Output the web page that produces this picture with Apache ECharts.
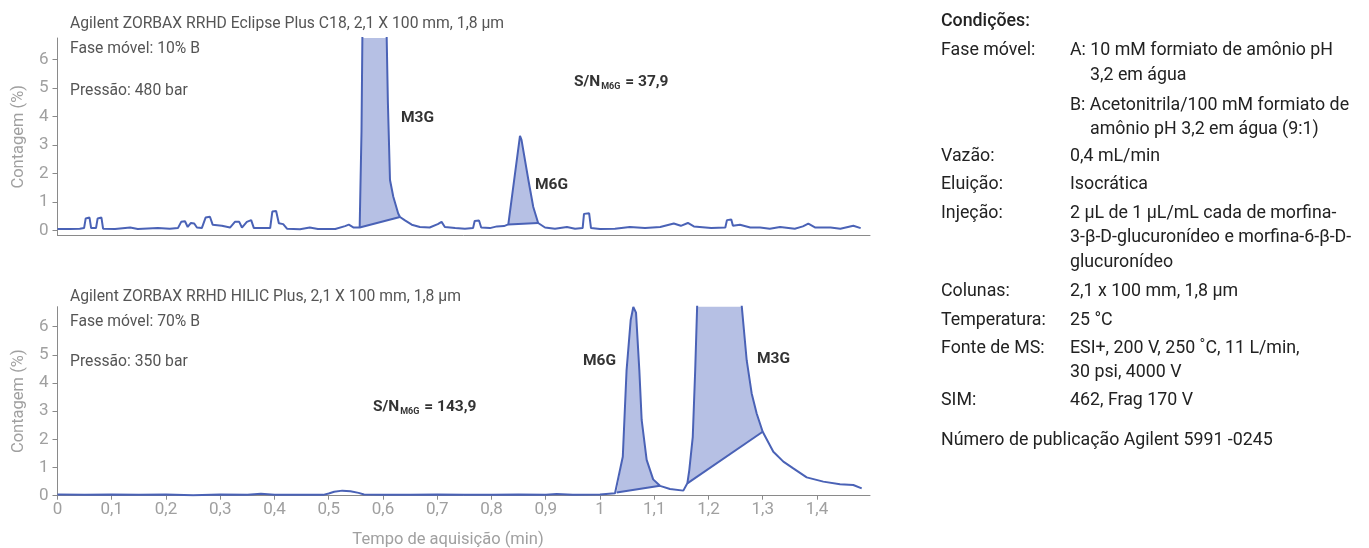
<!DOCTYPE html>
<html><head><meta charset="utf-8">
<script src="https://cdn.jsdelivr.net/npm/echarts@6/dist/echarts.min.js"></script>
<style>html,body{margin:0;padding:0;background:#fff}#c{width:1369px;height:548px}</style>
</head><body><div id="c"></div>
<script>
// ---- data (time in min, counts in %) ----
const topTime = [0.000,0.023,0.041,0.049,0.052,0.059,0.062,0.071,0.074,0.081,
  0.084,0.106,0.134,0.148,0.185,0.207,0.222,0.228,0.235,0.240,
  0.246,0.252,0.257,0.266,0.273,0.281,0.286,0.303,0.318,0.327,
  0.335,0.340,0.349,0.357,0.362,0.392,0.396,0.403,0.408,0.416,
  0.423,0.447,0.465,0.480,0.512,0.530,0.537,0.546,0.557,0.5604,
  0.5622,0.567,0.585,0.603,0.6068,0.609,0.6129,0.619,0.628,0.6313,
  0.6405,0.653,0.668,0.686,0.701,0.708,0.714,0.733,0.751,0.766,
  0.769,0.777,0.781,0.797,0.810,0.823,0.831,0.8525,0.8553,0.868,
  0.877,0.886,0.8986,0.917,0.939,0.954,0.968,0.9705,0.980,0.9834,
  1.000,1.0276,1.055,1.083,1.111,1.136,1.149,1.162,1.173,1.205,
  1.231,1.234,1.242,1.245,1.258,1.277,1.295,1.313,1.332,1.359,
  1.374,1.384,1.397,1.425,1.443,1.467,1.4805];
const topCounts = [0.05,0.05,0.06,0.08,0.42,0.45,0.08,0.08,0.42,0.45,
  0.06,0.05,0.10,0.05,0.08,0.06,0.08,0.30,0.32,0.12,
  0.26,0.24,0.10,0.08,0.45,0.48,0.20,0.16,0.10,0.30,
  0.30,0.10,0.30,0.36,0.08,0.08,0.66,0.68,0.25,0.22,
  0.06,0.04,0.10,0.05,0.05,0.15,0.20,0.10,0.10,3.5,
  7.2,9.5,10.5,9.6,6.77,4.5,1.77,1.18,0.59,0.47,
  0.35,0.20,0.12,0.10,0.22,0.30,0.12,0.08,0.06,0.08,
  0.33,0.35,0.10,0.08,0.14,0.15,0.21,3.32,3.18,1.77,
  0.82,0.26,0.10,0.06,0.12,0.06,0.08,0.58,0.60,0.08,
  0.05,0.06,0.12,0.08,0.12,0.24,0.16,0.26,0.14,0.08,
  0.10,0.36,0.38,0.16,0.20,0.10,0.10,0.06,0.12,0.06,
  0.14,0.24,0.10,0.10,0.06,0.16,0.08];
const bottomTime = [0.000,0.050,0.100,0.150,0.200,0.250,0.300,0.350,0.375,0.400,
  0.450,0.490,0.500,0.510,0.525,0.540,0.555,0.565,0.600,0.650,
  0.700,0.750,0.800,0.850,0.900,0.920,0.950,1.000,1.0277,1.0307,
  1.042,1.049,1.0566,1.0614,1.0664,1.0725,1.0768,1.086,1.098,1.1106,
  1.129,1.1536,1.161,1.1646,1.171,1.1755,1.1795,1.190,1.220,1.250,
  1.2612,1.2704,1.2796,1.2888,1.2999,1.3195,1.338,1.3563,1.381,1.4116,
  1.4424,1.4669,1.4824];
const bottomCounts = [0.04,0.03,0.04,0.03,0.04,0.02,0.04,0.03,0.07,0.03,
  0.03,0.03,0.08,0.14,0.18,0.16,0.10,0.04,0.03,0.03,
  0.04,0.03,0.03,0.04,0.03,0.06,0.03,0.04,0.085,0.11,
  1.38,4.46,6.24,6.70,6.50,4.46,2.69,1.27,0.58,0.35,
  0.24,0.18,0.44,0.91,2.09,4.46,7.0,8.5,9.0,8.5,
  6.75,4.81,3.63,2.92,2.27,1.56,1.21,0.97,0.65,0.50,
  0.41,0.38,0.26];
// integrated peak windows [start, end] (min)
const topPeakWindows = [[0.557, 0.6313], [0.831, 0.886]];
const bottomPeakWindows = [[1.0307, 1.1106], [1.161, 1.2999]];
const xTicks = [0, 0.1, 0.2, 0.3, 0.4, 0.5, 0.6, 0.7, 0.8, 0.9, 1, 1.1, 1.2, 1.3, 1.4];
const yTicks = [0, 1, 2, 3, 4, 5, 6];

// ---- styling ----
const FONT = 'Roboto, "Noto Sans", sans-serif';
const LINE = '#4a62b6', FILL = '#b6c0e4', AX = '#8a8a8a', LBL = '#a0a0a0';
const X_MAX = 1.4977;

function pairs(t, c) { return t.map((x, i) => [x, c[i]]); }
function fmt(v) { return String(+v.toFixed(1)).replace('.', ','); }

function peakShade(idx, time, counts, windows) {
  return {
    type: 'custom', xAxisIndex: idx, yAxisIndex: idx, clip: true, z: 1, silent: true,
    data: windows.map(w => [w[0], w[1], 0]),
    encode: { x: [0, 1], y: 2 },
    renderItem(params, api) {
      const x0 = api.value(0), x1 = api.value(1);
      const pts = [];
      for (let i = 0; i < time.length; i++) {
        if (time[i] >= x0 - 1e-9 && time[i] <= x1 + 1e-9) pts.push(api.coord([time[i], counts[i]]));
      }
      const a = pts[0], b = pts[pts.length - 1];
      return { type: 'group', children: [
        { type: 'polygon', shape: { points: pts }, style: { fill: FILL } },
        { type: 'line', shape: { x1: a[0], y1: a[1], x2: b[0], y2: b[1] }, style: { stroke: LINE, lineWidth: 2 } }
      ]};
    }
  };
}
function lineSeries(idx, time, counts) {
  return { type: 'line', xAxisIndex: idx, yAxisIndex: idx, data: pairs(time, counts),
    showSymbol: false, symbol: 'none', z: 3, clip: true, silent: true,
    lineStyle: { color: LINE, width: 2 } };
}
function yAxis(idx, min, max) {
  return { type: 'value', gridIndex: idx, min: min, max: max,
    axisLine: { show: true, lineStyle: { color: AX, width: 1 } },
    axisTick: { show: true, customValues: yTicks, length: 5, lineStyle: { color: AX } },
    axisLabel: { customValues: yTicks, color: LBL, fontSize: 17, fontFamily: FONT, margin: 9 },
    splitLine: { show: false },
    name: 'Contagem (%)', nameLocation: 'middle', nameGap: 30, nameRotate: 90,
    nameTextStyle: { color: LBL, fontSize: 16.5, fontFamily: FONT } };
}
const DY = 2;
function T(x, y, text, o) {
  o = o || {};
  return { type: 'text', x: x, y: y + DY, silent: true, style: Object.assign({
    text: text, fill: o.fill || '#555', fontSize: o.size || 15.7, fontFamily: FONT,
    fontWeight: o.weight || 'normal', align: o.align || 'left', verticalAlign: 'middle' }, o.rich ? { rich: o.rich } : {}) };
}
const snRich = {
  a: { fontSize: 15.5, fontWeight: 'bold', fill: '#333', fontFamily: FONT },
  b: { fontSize: 9, fontWeight: 'bold', fill: '#333', fontFamily: FONT, padding: [9, 1, 0, 1] }
};
const RP = '#222', RS = 17.8, LB = 15.5;
const graphic = [
  T(70, 22, 'Agilent ZORBAX RRHD Eclipse Plus C18, 2,1 X 100 mm, 1,8 µm'),
  T(70, 47, 'Fase móvel: 10% B'),
  T(70, 89, 'Pressão: 480 bar'),
  T(401, 116, 'M3G', { fill: '#333', weight: 'bold', size: LB }),
  T(535, 183, 'M6G', { fill: '#333', weight: 'bold', size: LB }),
  T(574, 80, '{a|S/N}{b|M6G}{a| = 37,9}', { rich: snRich }),
  T(70, 295, 'Agilent ZORBAX RRHD HILIC Plus, 2,1 X 100 mm, 1,8 µm'),
  T(70, 320, 'Fase móvel: 70% B'),
  T(70, 360, 'Pressão: 350 bar'),
  T(583, 359, 'M6G', { fill: '#333', weight: 'bold', size: LB }),
  T(757, 357, 'M3G', { fill: '#333', weight: 'bold', size: LB }),
  T(373, 405, '{a|S/N}{b|M6G}{a| = 143,9}', { rich: snRich }),
  T(448, 538, 'Tempo de aquisição (min)', { fill: LBL, align: 'center', size: 16.5 }),
  T(941, 20, 'Condições:', { fill: RP, size: RS, weight: 500 }),
  T(941, 49, 'Fase móvel:', { fill: RP, size: RS }),
  T(1070, 49, 'A: 10 mM formiato de amônio pH', { fill: RP, size: RS }),
  T(1090, 74, '3,2 em água', { fill: RP, size: RS }),
  T(1070, 104, 'B: Acetonitrila/100 mM formiato de', { fill: RP, size: RS }),
  T(1090, 128, 'amônio pH 3,2 em água (9:1)', { fill: RP, size: RS }),
  T(941, 155, 'Vazão:', { fill: RP, size: RS }),
  T(1070, 155, '0,4 mL/min', { fill: RP, size: RS }),
  T(941, 183, 'Eluição:', { fill: RP, size: RS }),
  T(1070, 183, 'Isocrática', { fill: RP, size: RS }),
  T(941, 212, 'Injeção:', { fill: RP, size: RS }),
  T(1070, 212, '2 µL de 1 µL/mL cada de morfina-', { fill: RP, size: RS }),
  T(1070, 236, '3-β-D-glucuronídeo e morfina-6-β-D-', { fill: RP, size: RS }),
  T(1070, 261, 'glucuronídeo', { fill: RP, size: RS }),
  T(941, 290, 'Colunas:', { fill: RP, size: RS }),
  T(1070, 290, '2,1 x 100 mm, 1,8 µm', { fill: RP, size: RS }),
  T(941, 319, 'Temperatura:', { fill: RP, size: RS }),
  T(1070, 319, '25 °C', { fill: RP, size: RS }),
  T(941, 347, 'Fonte de MS:', { fill: RP, size: RS }),
  T(1070, 347, 'ESI+, 200 V, 250 ˚C, 11 L/min,', { fill: RP, size: RS }),
  T(1070, 371, '30 psi, 4000 V', { fill: RP, size: RS }),
  T(941, 399, 'SIM:', { fill: RP, size: RS }),
  T(1070, 399, '462, Frag 170 V', { fill: RP, size: RS }),
  T(941, 439, 'Número de publicação Agilent 5991 -0245', { fill: RP, size: RS })
];

const chart = echarts.init(document.getElementById('c'));
chart.setOption({
  animation: false,
  backgroundColor: '#fff',
  textStyle: { fontFamily: FONT },
  grid: [
    { left: 57.5, top: 38, width: 812.5, height: 197.5 },
    { left: 57.5, top: 306.7, width: 812.5, height: 189 }
  ],
  xAxis: [
    { type: 'value', gridIndex: 0, min: 0, max: X_MAX,
      axisLine: { show: true, onZero: false, lineStyle: { color: AX } },
      axisTick: { show: false }, axisLabel: { show: false }, splitLine: { show: false } },
    { type: 'value', gridIndex: 1, min: 0, max: X_MAX,
      axisLine: { show: true, onZero: false, lineStyle: { color: AX } },
      axisTick: { show: true, customValues: xTicks, length: 4, lineStyle: { color: AX } },
      axisLabel: { customValues: xTicks, formatter: fmt, color: LBL, fontSize: 17, fontFamily: FONT, margin: 6 },
      splitLine: { show: false } }
  ],
  yAxis: [ yAxis(0, -0.18, 6.76), yAxis(1, 0, 6.71) ],
  series: [
    peakShade(0, topTime, topCounts, topPeakWindows),
    lineSeries(0, topTime, topCounts),
    peakShade(1, bottomTime, bottomCounts, bottomPeakWindows),
    lineSeries(1, bottomTime, bottomCounts)
  ],
  graphic: graphic
});
</script></body></html>
